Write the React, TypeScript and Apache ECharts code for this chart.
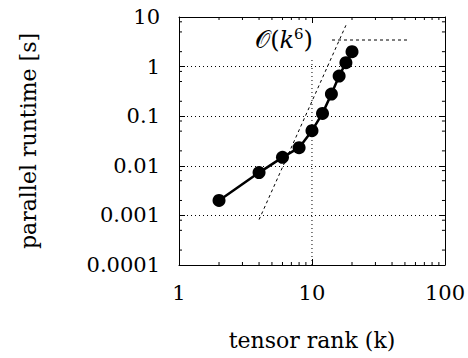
import React, { useEffect, useRef } from "react";
import * as echarts from "echarts";

// measured data
const rankK = [2, 4, 6, 8, 10, 12, 14, 16, 18, 20];
const runtimeS = [0.002, 0.0073, 0.0148, 0.0232, 0.051, 0.114, 0.28, 0.646, 1.2, 2.0];
// O(k^6) reference line end points
const scalingK = [4, 18];
const scalingS = [0.00082, 6.8];
// axes
const xRange = [1, 100];
const yRange = [0.0001, 10];
const xMinorTicks = [2, 3, 4, 5, 6, 7, 8, 9, 20, 30, 40, 50, 60, 70, 80, 90];
const yMinorTicks = [
  0.0002, 0.0005, 0.0008, 0.002, 0.005, 0.008, 0.02, 0.05, 0.08, 0.2, 0.5, 0.8, 2, 5, 8,
];
const xGridAt = 10;
const keyBottom = 1.56;

const SERIF = "'DejaVu Serif', 'Liberation Serif', serif";

export default function App() {
  const ref = useRef<HTMLDivElement>(null);
  useEffect(() => {
    document.body.style.margin = "0";
    const chart = echarts.init(ref.current!, null, { renderer: "svg" });
    const axisCommon = {
      type: "log" as const,
      logBase: 10,
      axisLine: { show: true, onZero: false, lineStyle: { color: "#000", width: 1 } },
      axisTick: { show: true, inside: true, length: 6, lineStyle: { color: "#000", width: 1 } },
      minorTick: { show: false },
    };
    const tickLen = 3;
    chart.setOption({
      animation: false,
      backgroundColor: "#fff",
      textStyle: { fontFamily: SERIF },
      grid: { left: 179, right: 22, top: 17, bottom: 93 },
      graphic: [
        {
          type: "text",
          right: 468 - 313,
          top: 26,
          style: {
            text: "{cal|𝒪}{p|(}{it|k}{sup|6}{p|)}",
            fill: "#000",
            rich: {
              cal: { fontFamily: SERIF, fontSize: 24, lineHeight: 28, fill: "#000" },
              p: { fontFamily: SERIF, fontSize: 24, lineHeight: 28, fill: "#000" },
              it: { fontFamily: SERIF, fontStyle: "italic", fontSize: 24, lineHeight: 28, fill: "#000" },
              sup: { fontFamily: SERIF, fontSize: 15, lineHeight: 28, verticalAlign: "top", fill: "#000" },
            },
          },
        },
        {
          type: "line",
          shape: { x1: 332, y1: 40, x2: 408, y2: 40 },
          style: { stroke: "#000", lineWidth: 1, lineDash: [3, 3] },
        },
      ],
      xAxis: [
        {
          ...axisCommon,
          position: "bottom",
          min: xRange[0],
          max: xRange[1],
          name: "tensor rank (k)",
          nameLocation: "middle",
          nameGap: 64,
          nameTextStyle: { fontFamily: SERIF, fontSize: 22, color: "#000" },
          axisLabel: {
            margin: 17,
            fontFamily: SERIF,
            fontSize: 21,
            color: "#000",
            formatter: (v: number) => String(Number(v.toPrecision(1))),
          },
          splitLine: { show: false },
        },
        {
          ...axisCommon,
          position: "top",
          min: xRange[0],
          max: xRange[1],
          axisLabel: { show: false },
          splitLine: { show: false },
        },
      ],
      yAxis: [
        {
          ...axisCommon,
          position: "left",
          min: yRange[0],
          max: yRange[1],
          name: "parallel runtime [s]",
          nameLocation: "middle",
          nameGap: 140,
          nameTextStyle: { fontFamily: SERIF, fontSize: 22, color: "#000" },
          axisLabel: {
            margin: 19,
            fontFamily: SERIF,
            fontSize: 21,
            color: "#000",
            formatter: (v: number) => String(Number(v.toPrecision(1))),
          },
          splitLine: { show: true, lineStyle: { color: "#000", width: 1, type: [1, 3] } },
        },
        {
          ...axisCommon,
          position: "right",
          min: yRange[0],
          max: yRange[1],
          axisLabel: { show: false },
          splitLine: { show: false },
        },
      ],
      series: [
        {
          type: "line",
          name: "xgrid",
          data: [
            [xGridAt, yRange[0]],
            [xGridAt, keyBottom],
          ],
          symbol: "none",
          silent: true,
          lineStyle: { color: "#000", width: 1, type: [1, 3] },
          z: 1,
        },
        {
          type: "line",
          name: "k6",
          data: scalingK.map((k, i) => [k, scalingS[i]]),
          symbol: "none",
          silent: true,
          lineStyle: { color: "#000", width: 1, type: [3, 3] },
          z: 2,
        },
        {
          type: "line",
          name: "runtime",
          data: rankK.map((k, i) => [k, runtimeS[i]]),
          symbol: "circle",
          symbolSize: 13,
          lineStyle: { color: "#000", width: 2.5 },
          itemStyle: { color: "#000" },
          z: 3,
        },
        {
          type: "custom",
          name: "xminor",
          silent: true,
          clip: false,
          data: xMinorTicks.map((v) => [v, yRange[0]]),
          renderItem: (_p: any, api: any) => {
            const v = api.value(0);
            const b = api.coord([v, yRange[0]]);
            const t = api.coord([v, yRange[1]]);
            return {
              type: "group",
              children: [
                { type: "line", shape: { x1: b[0], y1: b[1], x2: b[0], y2: b[1] - tickLen }, style: { stroke: "#000", lineWidth: 1 } },
                { type: "line", shape: { x1: t[0], y1: t[1], x2: t[0], y2: t[1] + tickLen }, style: { stroke: "#000", lineWidth: 1 } },
              ],
            };
          },
          z: 4,
        },
        {
          type: "custom",
          name: "yminor",
          silent: true,
          clip: false,
          data: yMinorTicks.map((v) => [xRange[0], v]),
          renderItem: (_p: any, api: any) => {
            const v = api.value(1);
            const l = api.coord([xRange[0], v]);
            const r = api.coord([xRange[1], v]);
            return {
              type: "group",
              children: [
                { type: "line", shape: { x1: l[0], y1: l[1], x2: l[0] + tickLen, y2: l[1] }, style: { stroke: "#000", lineWidth: 1 } },
                { type: "line", shape: { x1: r[0], y1: r[1], x2: r[0] - tickLen, y2: r[1] }, style: { stroke: "#000", lineWidth: 1 } },
              ],
            };
          },
          z: 4,
        },
      ],
    });
    return () => chart.dispose();
  }, []);
  return <div ref={ref} style={{ width: 468, height: 358 }} />;
}
